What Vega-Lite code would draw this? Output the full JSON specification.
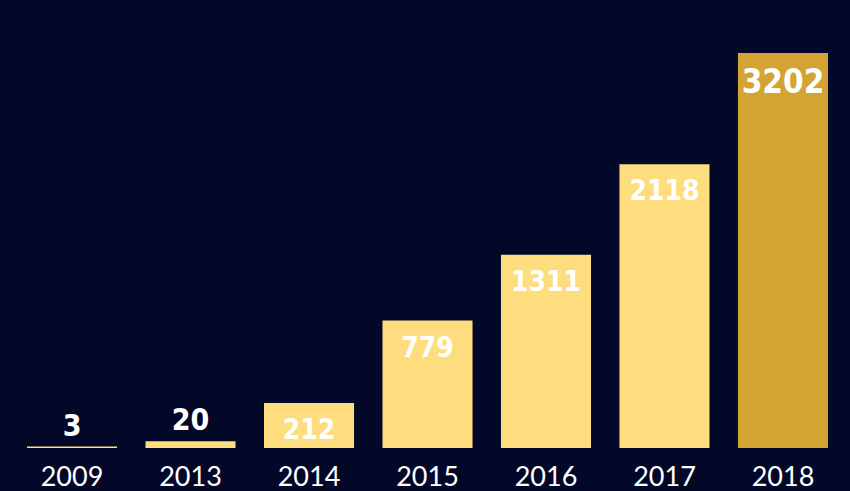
{
  "$schema": "https://vega.github.io/schema/vega-lite/v6.json",
  "width": 801,
  "height": 395,
  "autosize": {"type": "none"},
  "padding": {"left": 27, "right": 22, "top": 53, "bottom": 43},
  "background": "#030829",
  "config": {"view": {"stroke": null}},
  "data": {
    "values": [
      {"year": "2009", "value": 3},
      {"year": "2013", "value": 20},
      {"year": "2014", "value": 212},
      {"year": "2015", "value": 779},
      {"year": "2016", "value": 1311},
      {"year": "2017", "value": 2118},
      {"year": "2018", "value": 3202}
    ]
  },
  "encoding": {
    "x": {
      "field": "year",
      "type": "ordinal",
      "sort": null,
      "scale": {"paddingInner": 0.24, "paddingOuter": 0},
      "axis": {
        "title": null,
        "labelAngle": 0,
        "ticks": false,
        "domain": false,
        "labelPadding": 16,
        "labelFont": "Lato",
        "labelFontSize": 27,
        "labelColor": "#ffffff"
      }
    },
    "y": {
      "field": "value",
      "type": "quantitative",
      "scale": {"type": "pow", "exponent": 0.8, "domain": [0, 3202], "nice": false},
      "axis": null
    }
  },
  "layer": [
    {
      "mark": {"type": "bar"},
      "encoding": {
        "color": {
          "condition": {"test": "datum.year == '2018'", "value": "#d3a433"},
          "value": "#fddd7e"
        }
      }
    },
    {
      "transform": [{"filter": "datum.value < 100"}],
      "mark": {"type": "text", "baseline": "bottom", "dy": -5, "font": "DejaVu Sans Condensed, DejaVu Sans", "fontWeight": "bold", "fontSize": 30, "color": "#ffffff"},
      "encoding": {"text": {"field": "value", "type": "quantitative"}}
    },
    {
      "transform": [{"filter": "datum.value >= 100"}],
      "mark": {"type": "text", "baseline": "top", "dy": 14, "font": "DejaVu Sans Condensed, DejaVu Sans", "fontWeight": "bold", "color": "#ffffff"},
      "encoding": {
        "text": {"field": "value", "type": "quantitative", "format": "d"},
        "size": {"condition": {"test": "datum.year == '2018'", "value": 33}, "value": 28}
      }
    }
  ]
}
